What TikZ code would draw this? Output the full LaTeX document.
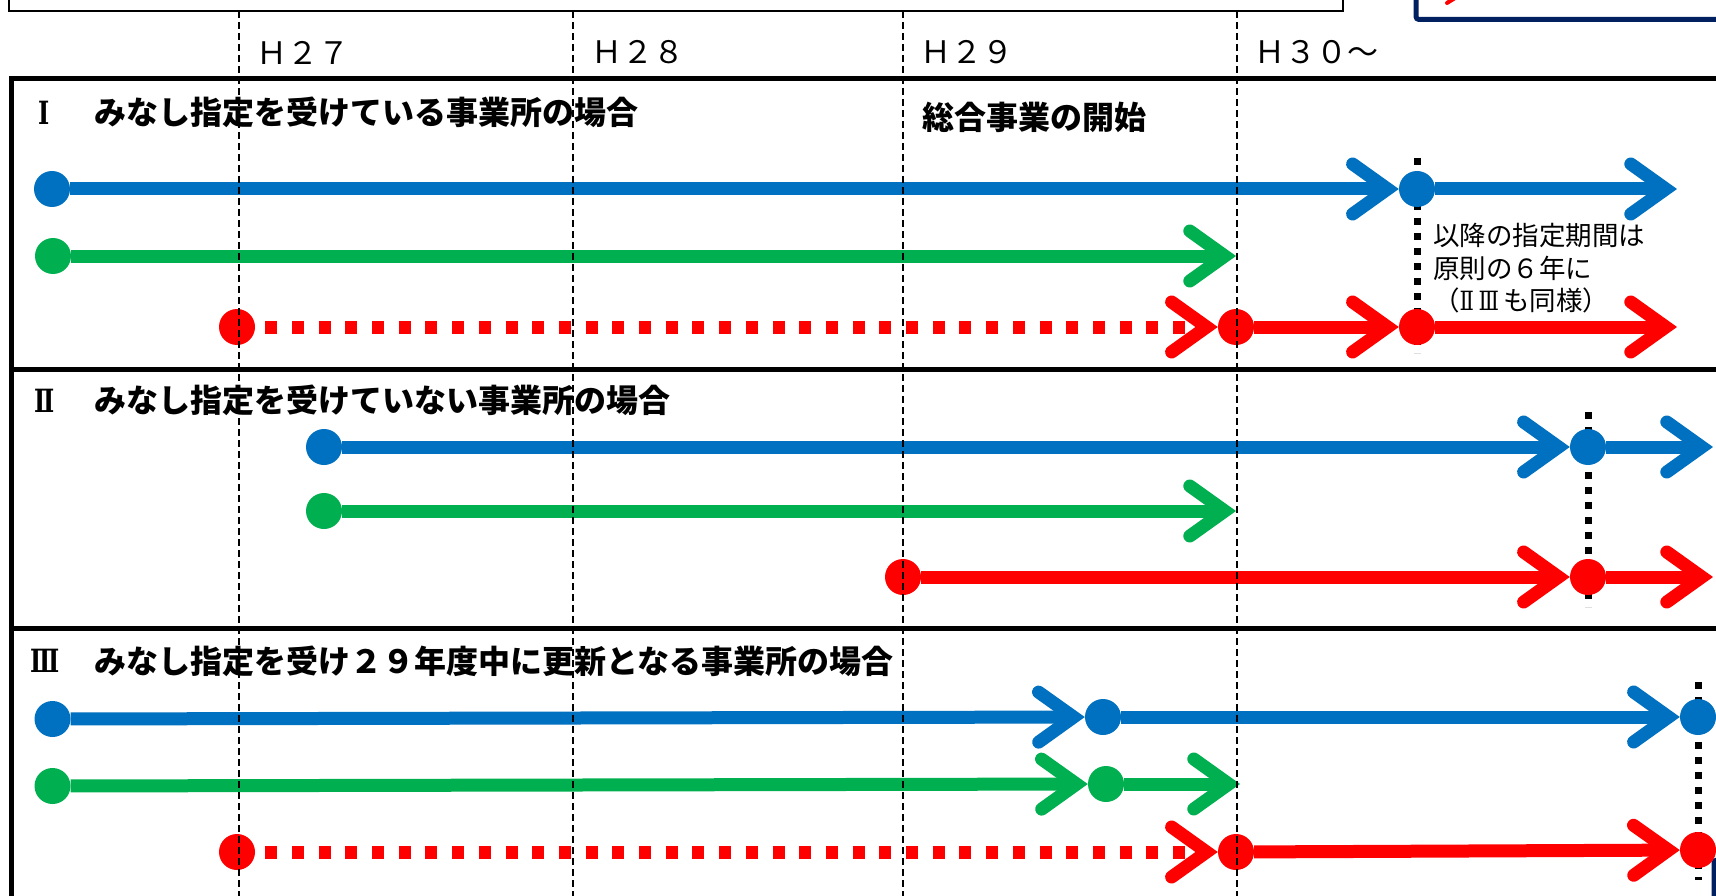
\documentclass[tikz,border=0pt]{standalone}
\usepackage{fontspec}
\usepackage{graphicx}
\newfontfamily\jp{Noto Sans CJK JP}
\newfontfamily\rn{DejaVu Serif}
\usetikzlibrary{arrows.meta}
\definecolor{cblue}{HTML}{0070C0}
\definecolor{cgreen}{HTML}{00B050}
\definecolor{cred}{HTML}{FF0000}
\definecolor{cnavy}{HTML}{002060}
\newcommand{\rnum}[1]{\scalebox{0.75}[1]{\rn\bfseries #1}}
\newcommand{\rnumr}[1]{\scalebox{0.8}[1]{\rn #1}}
\begin{document}
\begin{tikzpicture}[x=1pt,y=-1pt,
  dot/.style={circle,inner sep=0pt,minimum size=36pt,draw=none},
  bdot/.style={dot,fill=cblue},
  gdot/.style={dot,fill=cgreen},
  rdot/.style={dot,fill=cred},
  tl/.style={line width=13pt,-{Straight Barb[length=35pt,width=50pt,line cap=round]}},
  barr/.style={tl,draw=cblue},
  garr/.style={tl,draw=cgreen},
  rarr/.style={tl,draw=cred},
  rdotted/.style={rarr,dash pattern=on 12pt off 14.7pt,dash phase=16.7pt},
  frameline/.style={line width=5pt},
  yline/.style={line width=2pt,dash pattern=on 7pt off 4pt},
  marker/.style={line width=7pt,dash pattern=on 7pt off 8pt},
  title/.style={font=\jp\bfseries\fontsize{32pt}{36pt}\selectfont,inner sep=0pt,anchor=west},
  yearlab/.style={font=\jp\fontsize{31pt}{34pt}\selectfont,inner sep=0pt,anchor=west},
  note/.style={font=\jp\fontsize{26.5pt}{32.5pt}\selectfont,align=left,inner sep=0pt,anchor=west}]
\useasboundingbox (0,0) rectangle (1716,896);
\fill[white] (0,0) rectangle (1716,896);

% top boxes
\draw[line width=2pt] (9,-20) rectangle (1343,11);
\draw[cnavy,line width=5pt,rounded corners=3pt] (1416,-20) rectangle (1790,19.5);
\draw[cred,line width=4pt,line cap=round] (1447,3) -- (1455,-2);
\draw[cnavy,line width=5pt,rounded corners=3pt] (1714,860) rectangle (1790,960);

% frame
\draw[frameline] (1790,79) -- (11,79) -- (11,960);
\draw[frameline] (11,369) -- (1790,369);
\draw[frameline] (11,628) -- (1790,628);

% year labels
\node[yearlab] (h27) at (256,52.5) {Ｈ２７};
\node[yearlab] (h28) at (591,52.5) {Ｈ２８};
\node[yearlab] (h29) at (920,52.5) {Ｈ２９};
\node[yearlab] (h30) at (1254,52.5) {Ｈ３０～};

% titles
\node[title,anchor=center] (n1) at (44,112.7) {\rnum{Ⅰ}};
\node[title] (t1) at (94,112.7) {みなし指定を受けている事業所の場合};
\node[title] (t0) at (922,117) {総合事業の開始};
\node[title,anchor=center] (n2) at (45,400.5) {\rnum{Ⅱ}};
\node[title] (t2) at (94,400.5) {みなし指定を受けていない事業所の場合};
\node[title,anchor=center] (n3) at (45,661) {\rnum{Ⅲ}};
\node[title] (t3) at (94,661) {みなし指定を受け２９年度中に更新となる事業所の場合};
\node[note] (nt) at (1433,268.5) {以降の指定期間は\\原則の６年に\\（\rnumr{Ⅱ}\,\rnumr{Ⅲ}\,も同様）};

% black dotted markers
\coordinate (m1a) at (1417,158); \coordinate (m1b) at (1417,353);
\coordinate (m2a) at (1588,412); \coordinate (m2b) at (1588,607);
\coordinate (m3a) at (1698,682); \coordinate (m3b) at (1698,880);
\draw[marker] (m1a) -- (m1b);
\draw[marker] (m2a) -- (m2b);
\draw[marker] (m3a) -- (m3b);

% section I
\node[bdot] (b1s) at (52,189) {};
\node[bdot] (b1m) at (1417,189) {};
\coordinate (b1e) at (1677,189);
\node[gdot] (g1s) at (53,256) {};
\coordinate (g1e) at (1236,256);
\node[rdot] (r1s) at (237,327) {};
\node[rdot] (r1m) at (1236,327) {};
\node[rdot] (r1n) at (1417,327) {};
\coordinate (r1e) at (1677,327);
\draw[barr] (b1s) -- (b1m);
\draw[barr] (b1m) -- (b1e);
\draw[garr] (g1s) -- (g1e);
\draw[rdotted] (r1s) -- (r1m);
\draw[rarr] (r1m) -- (r1n);
\draw[rarr] (r1n) -- (r1e);

% section II
\node[bdot] (b2s) at (324,447) {};
\node[bdot] (b2m) at (1588,447) {};
\coordinate (b2e) at (1713,447);
\node[gdot] (g2s) at (324,511) {};
\coordinate (g2e) at (1236,511);
\node[rdot] (r2s) at (903,577) {};
\node[rdot] (r2m) at (1588,577) {};
\coordinate (r2e) at (1713,577);
\draw[barr] (b2s) -- (b2m);
\draw[barr] (b2m) -- (b2e);
\draw[garr] (g2s) -- (g2e);
\draw[rarr] (r2s) -- (r2m);
\draw[rarr] (r2m) -- (r2e);

% section III
\node[bdot] (b3s) at (52.5,719) {};
\node[bdot] (b3m) at (1103,717) {};
\node[bdot] (b3n) at (1698,717) {};
\node[gdot] (g3s) at (52.5,786) {};
\node[gdot] (g3m) at (1106,784) {};
\coordinate (g3e) at (1240,784);
\node[rdot] (r3s) at (237,852) {};
\node[rdot] (r3m) at (1236,852) {};
\node[rdot] (r3n) at (1698,850) {};
\draw[barr] (b3s) -- (b3m);
\draw[barr] (b3m) -- (b3n);
\draw[garr] (g3s) -- (g3m);
\draw[garr] (g3m) -- (g3e);
\draw[rdotted] (r3s) -- (r3m);
\draw[rarr] (r3m) -- (r3n);

% year dashed lines (on top)
\coordinate (v1a) at (238.5,11); \coordinate (v1b) at (238.5,900);
\coordinate (v2a) at (572.5,11); \coordinate (v2b) at (572.5,900);
\coordinate (v3a) at (903,11);   \coordinate (v3b) at (903,900);
\coordinate (v4a) at (1236.5,11); \coordinate (v4b) at (1236.5,900);
\draw[yline] (v1a) -- (v1b);
\draw[yline] (v2a) -- (v2b);
\draw[yline] (v3a) -- (v3b);
\draw[yline] (v4a) -- (v4b);
\end{tikzpicture}
\end{document}
